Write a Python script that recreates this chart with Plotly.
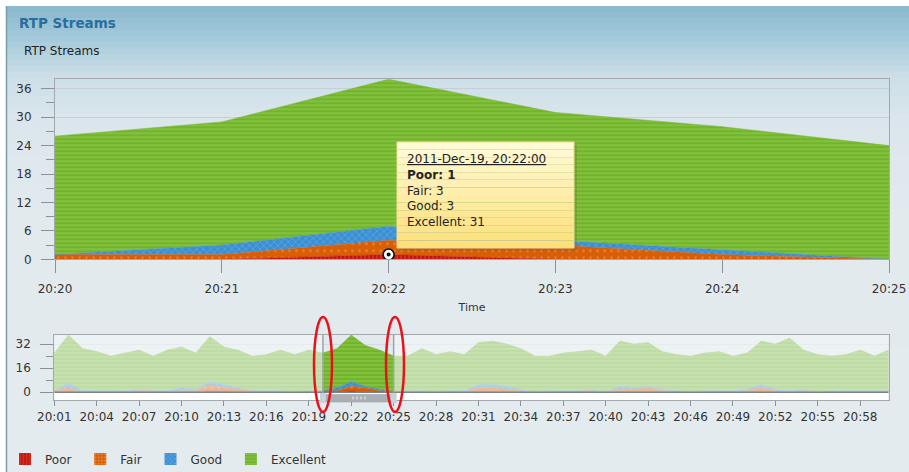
import plotly.graph_objects as go

# ---------------- data ----------------
minutes = ["20:01", "20:02", "20:03", "20:04", "20:05", "20:06", "20:07", "20:08", "20:09", "20:10",
           "20:11", "20:12", "20:13", "20:14", "20:15", "20:16", "20:17", "20:18", "20:19", "20:20",
           "20:21", "20:22", "20:23", "20:24", "20:25", "20:26", "20:27", "20:28", "20:29", "20:30",
           "20:31", "20:32", "20:33", "20:34", "20:35", "20:36", "20:37", "20:38", "20:39", "20:40",
           "20:41", "20:42", "20:43", "20:44", "20:45", "20:46", "20:47", "20:48", "20:49", "20:50",
           "20:51", "20:52", "20:53", "20:54", "20:55", "20:56", "20:57", "20:58", "20:59", "21:00"]
poor = [0, 0, 0, 0, 0, 0, 0, 0, 0, 0,
        0, 1, 1, 0, 0, 0, 0, 0, 0, 0,
        0, 1, 0, 0, 0, 0, 0, 0, 0, 0,
        0, 0, 0, 0, 0, 0, 0, 0, 0, 0,
        0, 0, 0, 0, 0, 0, 0, 0, 0, 0,
        0, 0, 0, 0, 0, 0, 0, 0, 0, 0]
fair = [1, 3, 0, 0, 0, 0, 1, 1, 0, 1,
        1, 4, 2, 2, 1, 0, 0, 0, 1, 1,
        1, 3, 3, 1, 0, 0, 0, 0, 0, 0,
        3, 3, 2, 1, 0, 0, 0, 1, 1, 0,
        2, 2, 3, 1, 1, 0, 0, 1, 0, 1,
        3, 1, 0, 1, 0, 1, 0, 0, 0, 1]
good = [0, 3, 1, 1, 1, 1, 1, 0, 1, 2,
        1, 2, 2, 1, 0, 1, 1, 0, 0, 0,
        2, 3, 1, 1, 0, 1, 1, 0, 1, 1,
        2, 2, 2, 1, 0, 1, 1, 0, 1, 0,
        2, 1, 1, 1, 0, 0, 1, 0, 1, 1,
        2, 1, 1, 1, 0, 0, 1, 1, 1, 0]
excellent = [25, 32, 28, 26, 23, 25, 26, 23, 27, 27,
             24, 30, 25, 25, 23, 24, 27, 25, 27, 25,
             26, 31, 27, 26, 24, 23, 28, 25, 26, 24,
             28, 29, 28, 27, 24, 23, 25, 26, 26, 24,
             30, 29, 29, 25, 24, 24, 25, 26, 23, 24,
             29, 30, 35, 26, 25, 23, 24, 27, 23, 27]
series_names = ["Poor", "Fair", "Good", "Excellent"]
date_prefix = "2011-12-19 "
tooltip_date = "2011-Dec-19, 20:22:00"
tooltip_minute = "20:22"
window = ("20:20", "20:25")

# ---------------- helpers ----------------
W, H = 909, 472
def px(x): return x / W
def py(y): return 1 - y / H

xs = [date_prefix + m + ":00" for m in minutes]
values = {"Poor": poor, "Fair": fair, "Good": good, "Excellent": excellent}
styles = {
    "Poor": dict(bg="#c3170e", fg="#e8594a", shape="|", size=4, sol=0.35),
    "Fair": dict(bg="#d95f06", fg="#f4ab74", shape=".", size=7, sol=0.1),
    "Good": dict(bg="#3b8fd2", fg="#8ccaf0", shape="x", size=5, sol=0.22),
    "Excellent": dict(bg="#72b52b", fg="#a4d366", shape="-", size=4, sol=0.35),
}
FONT = "DejaVu Sans"
TXT = "#333333"
LINE = "#a2a8ac"
TICK = "#8a9298"

fig = go.Figure()

for xa, ya, grp in (("x", "y", "main"), ("x2", "y2", "nav")):
    for name in series_names:
        s = styles[name]
        fig.add_trace(go.Scatter(
            x=xs, y=values[name], xaxis=xa, yaxis=ya, stackgroup=grp, mode="lines",
            line=dict(width=0.5, color=s["bg"]), fillcolor=s["bg"],
            fillpattern=dict(shape=s["shape"], fgcolor=s["fg"], bgcolor=s["bg"],
                             size=s["size"], solidity=s["sol"]),
            showlegend=False, hoverinfo="skip", name=name))

for name in series_names:
    s = styles[name]
    fig.add_trace(go.Bar(
        x=[None], y=[None], name=name + "\u00a0", xaxis="x2", yaxis="y2",
        marker=dict(color=s["bg"], line=dict(width=0),
                    pattern=dict(shape=s["shape"], fgcolor=s["fg"], bgcolor=s["bg"],
                                 size=4, solidity=0.35)),
        showlegend=True, hoverinfo="skip"))

ti = minutes.index(tooltip_minute)
fig.add_trace(go.Scatter(x=[xs[ti]], y=[poor[ti]], mode="markers", xaxis="x", yaxis="y",
                         marker=dict(size=11, color="white", line=dict(color="#111", width=1.6)),
                         showlegend=False, hoverinfo="skip"))
fig.add_trace(go.Scatter(x=[xs[ti]], y=[poor[ti]], mode="markers", xaxis="x", yaxis="y",
                         marker=dict(size=4, color="#111"), showlegend=False, hoverinfo="skip"))

shapes = []
stops = [(6, (138, 183, 204)), (40, (165, 203, 220)), (75, (203, 222, 231)),
         (120, (219, 230, 236)), (220, (226, 234, 238)), (472, (228, 235, 239))]
def grad(y):
    for (y0, c0), (y1, c1) in zip(stops[:-1], stops[1:]):
        if y0 <= y <= y1:
            t = (y - y0) / (y1 - y0)
            return "rgb(%d,%d,%d)" % tuple(round(a + (b - a) * t) for a, b in zip(c0, c1))
    return "rgb(228,235,239)"
y = 6
while y < 472:
    y2 = min(y + 6, 472)
    shapes.append(dict(type="rect", xref="paper", yref="paper", x0=px(6), x1=1,
                       y0=py(y2), y1=py(y), fillcolor=grad((y + y2) / 2),
                       line=dict(width=0), layer="below"))
    y = y2
shapes.append(dict(type="line", xref="paper", yref="paper", x0=px(6.5), x1=px(6.5),
                   y0=0, y1=py(6), line=dict(color="#7f9aab", width=1.5), layer="below"))

wi0, wi1 = minutes.index(window[0]), minutes.index(window[1])
for a, b in ((0, wi0), (wi1, len(xs) - 1)):
    shapes.append(dict(type="rect", xref="x2", yref="y2", x0=xs[a], x1=xs[b], y0=0, y1=38,
                       fillcolor="rgba(243,247,249,0.6)", line=dict(width=0), layer="above"))
shapes.append(dict(type="rect", xref="x2", yref="y2", x0=xs[0], x1=xs[-1], y0=-5.2, y1=0,
                   fillcolor="white", line=dict(width=0), layer="above"))
shapes.append(dict(type="line", xref="x2", yref="y2", x0=xs[0], x1=xs[-1], y0=0, y1=0,
                   line=dict(color="#7c8489", width=1.5), layer="above"))
for k in (wi0, wi1):
    shapes.append(dict(type="line", xref="x2", yref="paper", x0=xs[k], x1=xs[k],
                       y0=py(400), y1=py(335), line=dict(color="#9ca4aa", width=1.5), layer="above"))
shapes.append(dict(type="rect", xref="x2", yref="paper", x0=xs[wi0], x1=xs[wi1],
                   y0=py(402), y1=py(394.5), fillcolor="#a9afb5",
                   line=dict(color="#8e959b", width=0.5), layer="above"))
for k in (wi0, wi1):
    shapes.append(dict(type="rect", xref="x2", yref="paper", x0=xs[k], x1=xs[k],
                       y0=py(403), y1=py(393), line=dict(color="#c6d3dc", width=6), layer="above"))
for gx in (353, 357, 361, 365):
    shapes.append(dict(type="line", xref="paper", yref="paper", x0=px(gx), x1=px(gx),
                       y0=py(399.5), y1=py(396.5), line=dict(color="#eef0f2", width=1), layer="above"))

shapes.append(dict(type="rect", xref="paper", yref="paper", x0=px(400), x1=px(577),
                   y0=py(251), y1=py(145), fillcolor="rgba(80,80,60,0.18)",
                   line=dict(width=0), layer="above"))
tb0, tb1 = 142, 248
n = 14
c_top, c_bot = (255, 251, 218), (253, 223, 120)
for i in range(n):
    ya_ = tb0 + (tb1 - tb0) * i / n
    yb_ = tb0 + (tb1 - tb0) * (i + 1) / n
    t = (i + 0.5) / n
    col = "rgb(%d,%d,%d)" % tuple(round(a + (b - a) * t) for a, b in zip(c_top, c_bot))
    shapes.append(dict(type="rect", xref="paper", yref="paper", x0=px(397), x1=px(574),
                       y0=py(yb_), y1=py(ya_), fillcolor=col, line=dict(width=0), layer="above"))
shapes.append(dict(type="rect", xref="paper", yref="paper", x0=px(397), x1=px(574),
                   y0=py(tb1), y1=py(tb0), line=dict(color="#f1dd96", width=1), layer="above"))

for cx in (323, 395):
    shapes.append(dict(type="circle", xref="paper", yref="paper", x0=px(cx - 9), x1=px(cx + 9),
                       y0=py(412), y1=py(317), line=dict(color="#e8121c", width=2.5), layer="above"))

annotations = [
    dict(text="<b>RTP Streams</b>", x=px(17), y=py(23), xref="paper", yref="paper",
         xanchor="left", yanchor="middle", showarrow=False,
         font=dict(family=FONT, size=13.5, color="#2a6e9e")),
    dict(text="RTP Streams", x=px(22), y=py(51), xref="paper", yref="paper",
         xanchor="left", yanchor="middle", showarrow=False,
         font=dict(family=FONT, size=12, color="#222")),
]
tip_lines = [
    "<u>%s</u>" % tooltip_date,
    "<b>Poor: %d</b>" % poor[ti],
    "Fair: %d" % fair[ti],
    "Good: %d" % good[ti],
    "Excellent: %d" % excellent[ti],
]
for i, t in enumerate(tip_lines):
    annotations.append(dict(text=t, x=px(405), y=py(159 + 15.8 * i), xref="paper", yref="paper",
                            xanchor="left", yanchor="middle", showarrow=False,
                            font=dict(family=FONT, size=12, color="#222")))

axis_common = dict(showline=True, linecolor=LINE, linewidth=1, mirror=True, zeroline=False,
                   automargin=False,
                   ticks="outside", tickcolor=TICK, tickfont=dict(family=FONT, size=12, color=TXT))

fig.update_layout(
    width=W, height=H, autosize=False,
    margin=dict(l=0, r=0, t=0, b=0, pad=0, autoexpand=False),
    paper_bgcolor="white", plot_bgcolor="rgba(0,0,0,0)",
    font=dict(family=FONT, size=12, color=TXT),
    xaxis=dict(axis_common, domain=[px(55), px(889)], anchor="y", type="date",
               range=[xs[wi0], xs[wi1]], tickformat="%H:%M", dtick=60000, tick0=xs[wi0],
               ticklen=13, showgrid=False, ticklabelstandoff=5,
               title=dict(text="Time", standoff=8, font=dict(family=FONT, size=11, color=TXT))),
    yaxis=dict(axis_common, domain=[py(259.3), py(79.3)], anchor="x", range=[0, 38],
               dtick=6, tick0=0, ticklen=13, showgrid=True, gridcolor="#c5cfd4",
               ticklabelstandoff=7,
               minor=dict(dtick=3, ticks="outside", ticklen=8, tickcolor=TICK, showgrid=False)),
    xaxis2=dict(axis_common, domain=[px(54.3), px(888.5)], anchor="y2", type="date",
                range=[xs[0], xs[-1]], tickformat="%H:%M", dtick=180000, tick0=xs[0],
                ticklen=5, showgrid=False, ticklabelstandoff=1),
    yaxis2=dict(axis_common, domain=[py(400), py(335)], anchor="x2", range=[-5.2, 38],
                dtick=16, tick0=0, ticklen=13, showgrid=True, gridcolor="#d3dbdf",
                ticklabelstandoff=7,
                minor=dict(dtick=8, ticks="outside", ticklen=7, tickcolor=TICK, showgrid=False)),
    showlegend=True,
    legend=dict(orientation="h", x=px(5), y=py(459), xanchor="left", yanchor="middle",
                bgcolor="rgba(0,0,0,0)", font=dict(family=FONT, size=12, color=TXT),
                traceorder="normal"),
    shapes=shapes, annotations=annotations,
    hovermode=False,
)

fig.write_html("out.html", config={"displayModeBar": False},
               post_script="document.body.style.margin='0px';")
